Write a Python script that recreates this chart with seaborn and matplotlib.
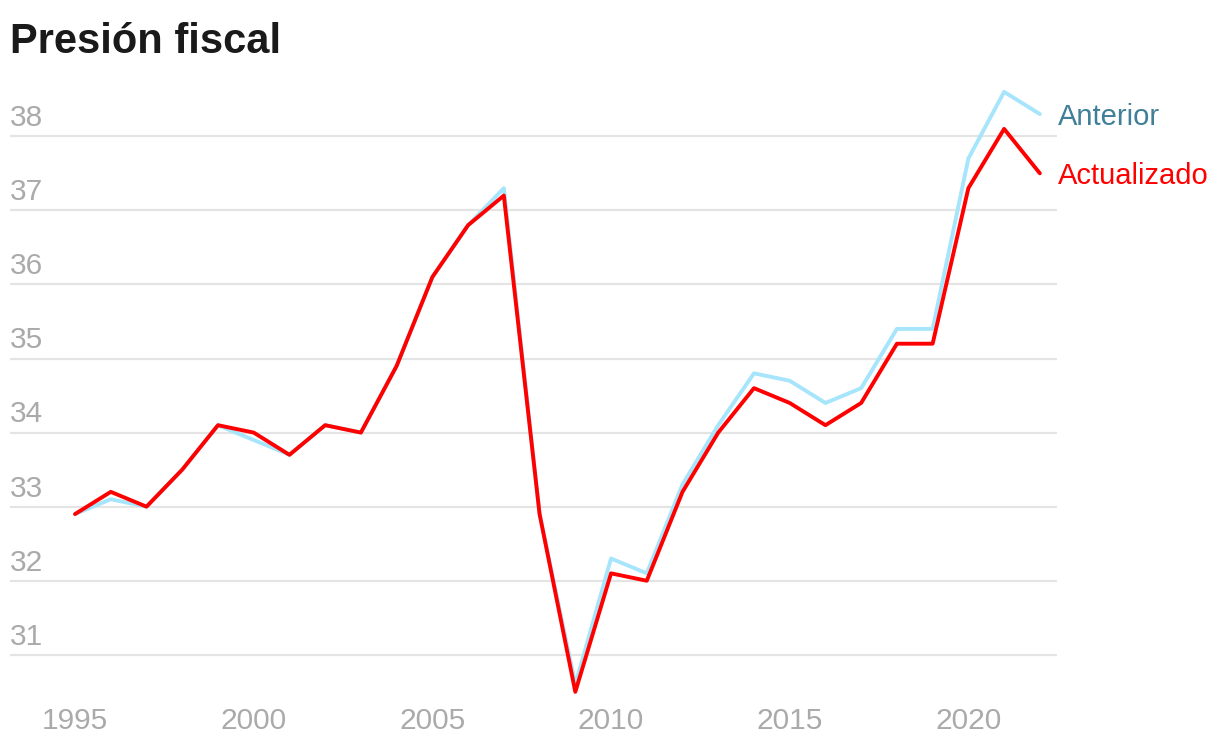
import numpy as np
import pandas as pd
import matplotlib
matplotlib.use("Agg")
import matplotlib.pyplot as plt
import seaborn as sns

years = list(range(1995, 2023))
anterior = [32.9, 33.1, 33.0, 33.5, 34.1, 33.9, 33.7, 34.1, 34.0, 34.9,
            36.1, 36.8, 37.3, 32.9, 30.6, 32.3, 32.1, 33.3, 34.1, 34.8,
            34.7, 34.4, 34.6, 35.4, 35.4, 37.7, 38.6, 38.3]
actualizado = [32.9, 33.2, 33.0, 33.5, 34.1, 34.0, 33.7, 34.1, 34.0, 34.9,
               36.1, 36.8, 37.2, 32.9, 30.5, 32.1, 32.0, 33.2, 34.0, 34.6,
               34.4, 34.1, 34.4, 35.2, 35.2, 37.3, 38.1, 37.5]
series_names = ["Anterior", "Actualizado"]
yticks = [31, 32, 33, 34, 35, 36, 37, 38]
xticks = [1995, 2000, 2005, 2010, 2015, 2020]

line_colors = {"Anterior": "#a6e5fc", "Actualizado": "#ff0000"}
label_colors = {"Anterior": "#3f7f97", "Actualizado": "#ff0000"}

df = pd.DataFrame({
    "year": years * 2,
    "value": anterior + actualizado,
    "serie": ["Anterior"] * len(years) + ["Actualizado"] * len(years),
})

sns.set_theme(style="white")
plt.rcParams["font.family"] = ["Liberation Sans", "DejaVu Sans"]

fig = plt.figure(figsize=(12.2, 7.44), dpi=100)
ax = fig.add_axes([10 / 1220, 44 / 744, 1047 / 1220, 620 / 744])

sns.lineplot(data=df, x="year", y="value", hue="serie", hue_order=series_names,
             palette=line_colors, linewidth=2.8, legend=False, ax=ax)

ax.set_xlim(1993.18, 2022.48)
ax.set_ylim(30.39, 38.76)
ax.set_yticks(yticks)
ax.tick_params(left=False, bottom=False, labelleft=False, labelbottom=False)
ax.grid(axis="y", color="#e4e4e4", linewidth=1.6)
ax.grid(axis="x", visible=False)
for s in ax.spines.values():
    s.set_visible(False)
ax.set_xlabel("")
ax.set_ylabel("")

# y labels sit above their gridlines, inside the plot
for v in yticks:
    ax.annotate(str(v), xy=(0, v), xycoords=("axes fraction", "data"),
                xytext=(0, 3), textcoords="offset points",
                ha="left", va="bottom", fontsize=21.5, color="#aaaaaa")

for x in xticks:
    ax.annotate(str(x), xy=(x, 0), xycoords=("data", "axes fraction"),
                xytext=(0, -5), textcoords="offset points",
                ha="center", va="top", fontsize=21.5, color="#aaaaaa",
                annotation_clip=False)

# direct labels at the line ends
ends = {"Anterior": anterior[-1], "Actualizado": actualizado[-1]}
for name in series_names:
    ax.annotate(name, xy=(years[-1], ends[name]), xytext=(13, -2),
                textcoords="offset points", ha="left", va="center",
                fontsize=21, color=label_colors[name], annotation_clip=False)

fig.text(10 / 1220, 1 - 53 / 744, "Presión fiscal", fontsize=30, fontweight="bold",
         color="#1a1a1a", ha="left", va="baseline")

fig.savefig("out.png", dpi=100)
